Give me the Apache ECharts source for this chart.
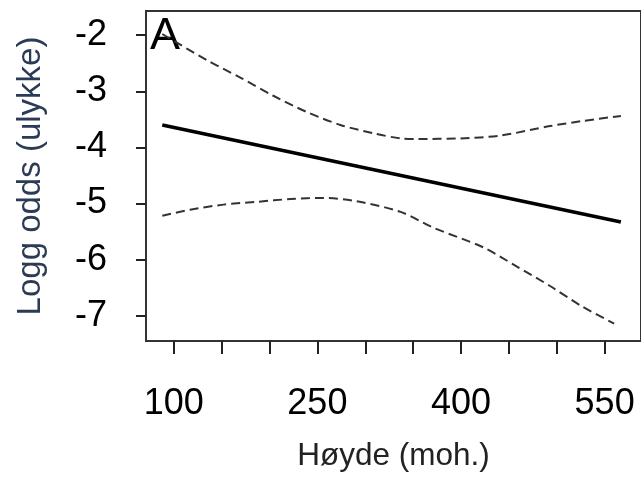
<!DOCTYPE html>
<html>
<head>
<meta charset="utf-8">
<script src="https://cdn.jsdelivr.net/npm/echarts@6/dist/echarts.min.js"></script>
<style>
  html, body { margin: 0; padding: 0; background: #fff; }
  #chart { width: 641px; height: 477px; }
</style>
</head>
<body>
<div id="chart"></div>
<script>
// altitude (moh.) vs. log odds of accident, fitted line with confidence band
const fitX = [88, 567]
const fitY = [-3.60, -5.33]

const upperX = [88, 135, 170, 204, 239, 274, 309, 337, 354, 399, 441, 493, 527, 567]
const upperY = [-1.98, -2.45, -2.76, -3.08, -3.37, -3.60, -3.75, -3.84, -3.85, -3.84, -3.79, -3.62, -3.53, -3.44]

const lowerX = [88, 117, 152, 187, 222, 256, 291, 337, 371, 423, 458, 493, 527, 560]
const lowerY = [-5.22, -5.11, -5.02, -4.97, -4.92, -4.90, -4.96, -5.15, -5.43, -5.78, -6.12, -6.47, -6.84, -7.14]

const xTicks = [100, 150, 200, 250, 300, 350, 400, 450, 500, 550]
const xLabels = [100, 250, 400, 550]
const yTicks = [-7, -6, -5, -4, -3, -2]

const pairs = (xs, ys) => xs.map((x, i) => [x, ys[i]])

const font = '"Liberation Sans", Arial, sans-serif'

const chart = echarts.init(document.getElementById('chart'), null, { renderer: 'canvas' })

chart.setOption({
  animation: false,
  backgroundColor: '#fff',
  grid: {
    left: 146,
    top: 11,
    width: 497,
    height: 338,
    show: true,
    borderColor: '#333',
    borderWidth: 2,
    containLabel: false
  },
  xAxis: {
    type: 'value',
    min: 71,
    max: 588,
    name: 'Høyde (moh.)',
    nameLocation: 'middle',
    nameGap: 99,
    nameTextStyle: { fontFamily: font, fontSize: 31.5, color: '#222' },
    axisLine: { show: false },
    splitLine: { show: false },
    axisTick: {
      show: true, length: 13, inside: false,
      customValues: xTicks,
      lineStyle: { color: '#222', width: 2 }
    },
    axisLabel: {
      customValues: xLabels,
      margin: 45,
      fontFamily: font,
      fontSize: 36,
      lineHeight: 36,
      color: '#000'
    }
  },
  yAxis: {
    type: 'value',
    min: -7.45,
    max: -1.57,
    name: 'Logg odds (ulykke)',
    nameLocation: 'middle',
    nameGap: 99,
    nameRotate: 90,
    nameTextStyle: { fontFamily: font, fontSize: 33, color: '#2b3a55' },
    axisLine: { show: false },
    splitLine: { show: false },
    axisTick: {
      show: true, length: 10, inside: false,
      customValues: yTicks,
      lineStyle: { color: '#222', width: 2 }
    },
    axisLabel: {
      customValues: yTicks,
      margin: 39,
      fontFamily: font,
      fontSize: 36,
      color: '#000'
    }
  },
  graphic: [{
    type: 'text',
    left: 150,
    top: 14,
    style: { text: 'A', fontFamily: font, fontSize: 45, fill: '#000' }
  }],
  series: [
    {
      name: 'fit',
      type: 'line',
      data: pairs(fitX, fitY),
      showSymbol: false,
      lineStyle: { color: '#000', width: 3.5 }
    },
    {
      name: 'upper',
      type: 'line',
      smooth: 0.3,
      data: pairs(upperX, upperY),
      showSymbol: false,
      lineStyle: { color: '#333', width: 2, type: [9, 5] }
    },
    {
      name: 'lower',
      type: 'line',
      smooth: 0.3,
      data: pairs(lowerX, lowerY),
      showSymbol: false,
      lineStyle: { color: '#333', width: 2, type: [9, 5] }
    }
  ]
})
</script>
</body>
</html>
